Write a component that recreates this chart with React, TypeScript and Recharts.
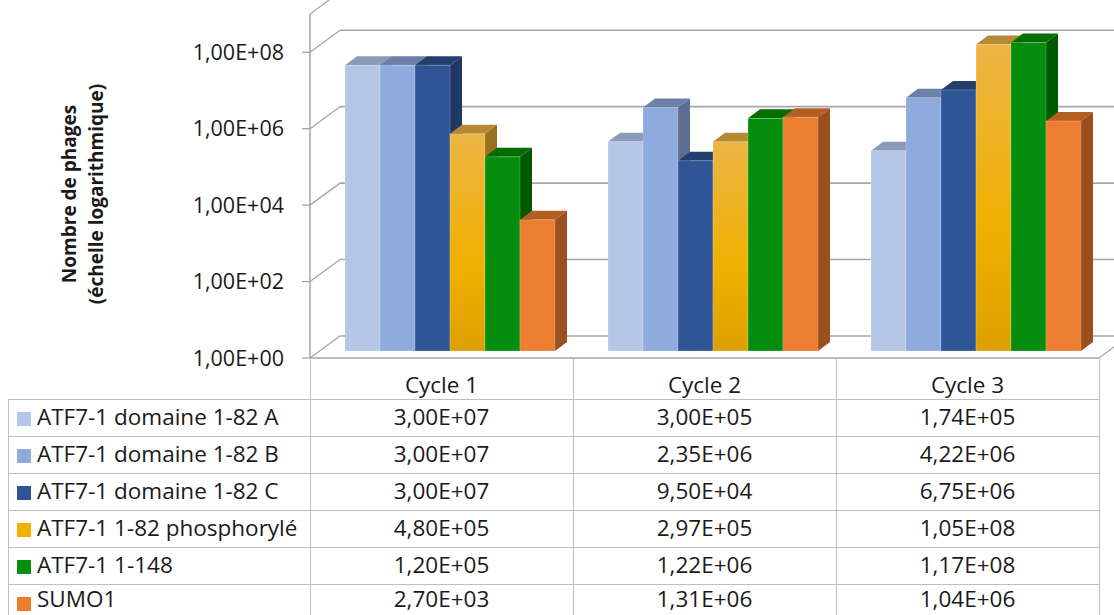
import { BarChart, Bar, XAxis, YAxis, CartesianGrid } from "recharts";

const cycles = ["Cycle 1", "Cycle 2", "Cycle 3"];
const seriesNames = [
  "ATF7-1 domaine 1-82 A",
  "ATF7-1 domaine 1-82 B",
  "ATF7-1 domaine 1-82 C",
  "ATF7-1 1-82 phosphorylé",
  "ATF7-1 1-148",
  "SUMO1",
];
const domaineA = [3.0e7, 3.0e5, 1.74e5];
const domaineB = [3.0e7, 2.35e6, 4.22e6];
const domaineC = [3.0e7, 9.5e4, 6.75e6];
const phospho = [4.8e5, 2.97e5, 1.05e8];
const atf148 = [1.2e5, 1.22e6, 1.17e8];
const sumo1 = [2.7e3, 1.31e6, 1.04e6];
const yTicks = [1, 1e2, 1e4, 1e6, 1e8];

const allSeries = [domaineA, domaineB, domaineC, phospho, atf148, sumo1];

// couleurs : face avant, dessus, côté
const palette = [
  { front: "#b4c7e7", top: "#8a9bb8", side: "#7d8ca6" },
  { front: "#8faadc", top: "#6c80a8", side: "#5d6f91" },
  { front: "#2f5597", top: "#243f6e", side: "#1f3864" },
  { front: "#f0b000", top: "#b68a35", side: "#9a7020", grad: ["#ecb545", "#f0b000", "#dda000"] },
  { front: "#058e0e", top: "#006e00", side: "#005a00" },
  { front: "#ed7d31", top: "#b55d22", side: "#9a4f1f" },
];

const data = cycles.map((c, i) => {
  const row: any = { cycle: c };
  allSeries.forEach((s, k) => (row["s" + k] = s[i]));
  return row;
});

const W = 1114;
const H = 615;
const M = { top: 14, right: 15, bottom: 216, left: 0 };
const Y_AXIS_W = 310;
const X_AXIS_H = 41;
const PLOT_BOTTOM = H - M.bottom - X_AXIS_H; // 358
const PLOT_LEFT = M.left + Y_AXIS_W;
const PLOT_RIGHT = W - M.right;
const COL_W = (PLOT_RIGHT - PLOT_LEFT) / cycles.length;

// profondeur 3D
const WALL_DX = 30;
const WALL_DY = -22;
const DX = 12;
const DY = -9;
const OX = 9;
const OY = -7;

const GRID = "#a6a6a6";
const LINE = "#bfbfbf";
const FONT = "'Open Sans', sans-serif";
const TXT = "#1a1a1a";
const TABLE_FS = 22.5;
const TEXT_BOX = 26;

const fmt = (v: number) => {
  const [m, e] = v.toExponential(2).split("e");
  const n = parseInt(e, 10);
  return m.replace(".", ",") + "E" + (n < 0 ? "-" : "+") + String(Math.abs(n)).padStart(2, "0");
};

function makeShape(si: number) {
  return (props: any) => {
    const { x, y, width, height, index } = props;
    const c = palette[si];
    const fx = x + OX;
    const fy = y + OY;
    const w = width;
    const h = height;
    const gid = `grad-${si}-${index}`;
    return (
      <g>
        {c.grad && (
          <defs>
            <linearGradient id={gid} x1="0" y1="0" x2="0" y2="1">
              <stop offset="0%" stopColor={c.grad[0]} />
              <stop offset="60%" stopColor={c.grad[1]} />
              <stop offset="100%" stopColor={c.grad[2]} />
            </linearGradient>
          </defs>
        )}
        <polygon
          points={`${fx},${fy} ${fx + DX},${fy + DY} ${fx + w + DX},${fy + DY} ${fx + w},${fy}`}
          fill={c.top}
        />
        <polygon
          points={`${fx + w},${fy} ${fx + w + DX},${fy + DY} ${fx + w + DX},${fy + h + DY} ${fx + w},${fy + h}`}
          fill={c.side}
        />
        <rect
          x={fx}
          y={fy}
          width={w}
          height={h}
          fill={c.grad ? `url(#${gid})` : c.front}
          stroke="rgba(255,255,255,0.25)"
          strokeWidth={0.8}
        />
      </g>
    );
  };
}

const gridLine = (p: any) => {
  const y = p.y1;
  const bottom = Math.abs(y - PLOT_BOTTOM) < 1;
  return (
    <g key={`grid-${p.index}-${y}`}>
      <line x1={p.x1} y1={y} x2={p.x1 + WALL_DX} y2={y + WALL_DY} stroke={GRID} strokeWidth={1.3} />
      <line x1={p.x1 + WALL_DX} y1={y + WALL_DY} x2={p.x2 + WALL_DX} y2={y + WALL_DY} stroke={GRID} strokeWidth={1.6} />
      {bottom && (
        <line x1={p.x2} y1={y} x2={p.x2 + WALL_DX} y2={y + WALL_DY} stroke={GRID} strokeWidth={1.3} />
      )}
    </g>
  );
};

const CycleTick = (props: any) => {
  const { x, y, payload } = props;
  return (
    <text x={x} y={y + 35} textAnchor="middle" fontSize={TABLE_FS} fill={TXT} fontFamily={FONT}>
      {payload.value}
    </text>
  );
};

export default function App() {
  const rowTop = 399;
  const rowH = 37;
  // la dernière ligne est coupée par le bas de l'image : on remonte un peu son texte
  const textTop = (r: number) =>
    rowTop + r * rowH + (rowH - TEXT_BOX) / 2 - 0.5 - (r === seriesNames.length - 1 ? 3 : 0);
  return (
    <div style={{ position: "absolute", left: 0, top: 0, width: W, height: H, background: "#fff", overflow: "hidden", fontFamily: FONT }}>
      <BarChart width={W} height={H} data={data} margin={M} barCategoryGap={26} barGap={0}>
        <CartesianGrid vertical={false} horizontal={gridLine} />
        <XAxis
          dataKey="cycle"
          height={X_AXIS_H}
          tickLine={false}
          tickSize={0}
          tickMargin={0}
          axisLine={{ stroke: GRID, strokeWidth: 1.5 }}
          tick={<CycleTick />}
        />
        <YAxis
          scale="log"
          domain={[1, 1e9]}
          ticks={yTicks}
          width={Y_AXIS_W}
          tickSize={8}
          tickMargin={18}
          tickFormatter={fmt}
          axisLine={{ stroke: GRID, strokeWidth: 1.5 }}
          tickLine={{ stroke: GRID, strokeWidth: 1.3 }}
          tick={{ fontSize: 21.5, fill: TXT, fontFamily: FONT }}
        />
        {allSeries.map((_, k) => (
          <Bar key={k} dataKey={"s" + k} name={seriesNames[k]} shape={makeShape(k)} isAnimationActive={false} />
        ))}
      </BarChart>

      {/* titre de l'axe */}
      <div
        style={{
          position: "absolute",
          left: 83 - 150,
          top: 194 - 30,
          width: 300,
          height: 60,
          transform: "rotate(-90deg)",
          textAlign: "center",
          fontWeight: 700,
          fontSize: 19,
          lineHeight: "27px",
          paddingTop: 3,
          boxSizing: "border-box",
          color: TXT,
        }}
      >
        Nombre de phages
        <br />
        (échelle logarithmique)
      </div>

      {/* tableau de données */}
      {[0, 1, 2, 3].map((k) => (
        <div
          key={"v" + k}
          style={{ position: "absolute", left: PLOT_LEFT + k * COL_W - 0.5, top: PLOT_BOTTOM, width: 1, height: H - PLOT_BOTTOM, background: LINE }}
        />
      ))}
      <div style={{ position: "absolute", left: 8, top: rowTop, width: 1, height: H - rowTop, background: LINE }} />
      {seriesNames.map((name, r) => (
        <div key={name}>
          <div style={{ position: "absolute", left: 8, top: rowTop + r * rowH, width: PLOT_RIGHT - 8, height: 1, background: LINE }} />
          <div
            style={{
              position: "absolute",
              left: 17,
              top: rowTop + r * rowH + rowH / 2 - 6,
              width: 14,
              height: 14,
              background: palette[r].front,
            }}
          />
          <div
            style={{
              position: "absolute",
              left: 37,
              top: textTop(r),
              height: TEXT_BOX,
              lineHeight: TEXT_BOX + "px",
              fontSize: TABLE_FS,
              color: TXT,
              whiteSpace: "nowrap",
            }}
          >
            {name}
          </div>
          {allSeries[r].map((v, c) => (
            <div
              key={c}
              style={{
                position: "absolute",
                left: PLOT_LEFT + c * COL_W,
                width: COL_W,
                top: textTop(r),
                height: TEXT_BOX,
                lineHeight: TEXT_BOX + "px",
                textAlign: "center",
                fontSize: TABLE_FS,
                color: TXT,
              }}
            >
              {fmt(v)}
            </div>
          ))}
        </div>
      ))}
    </div>
  );
}
